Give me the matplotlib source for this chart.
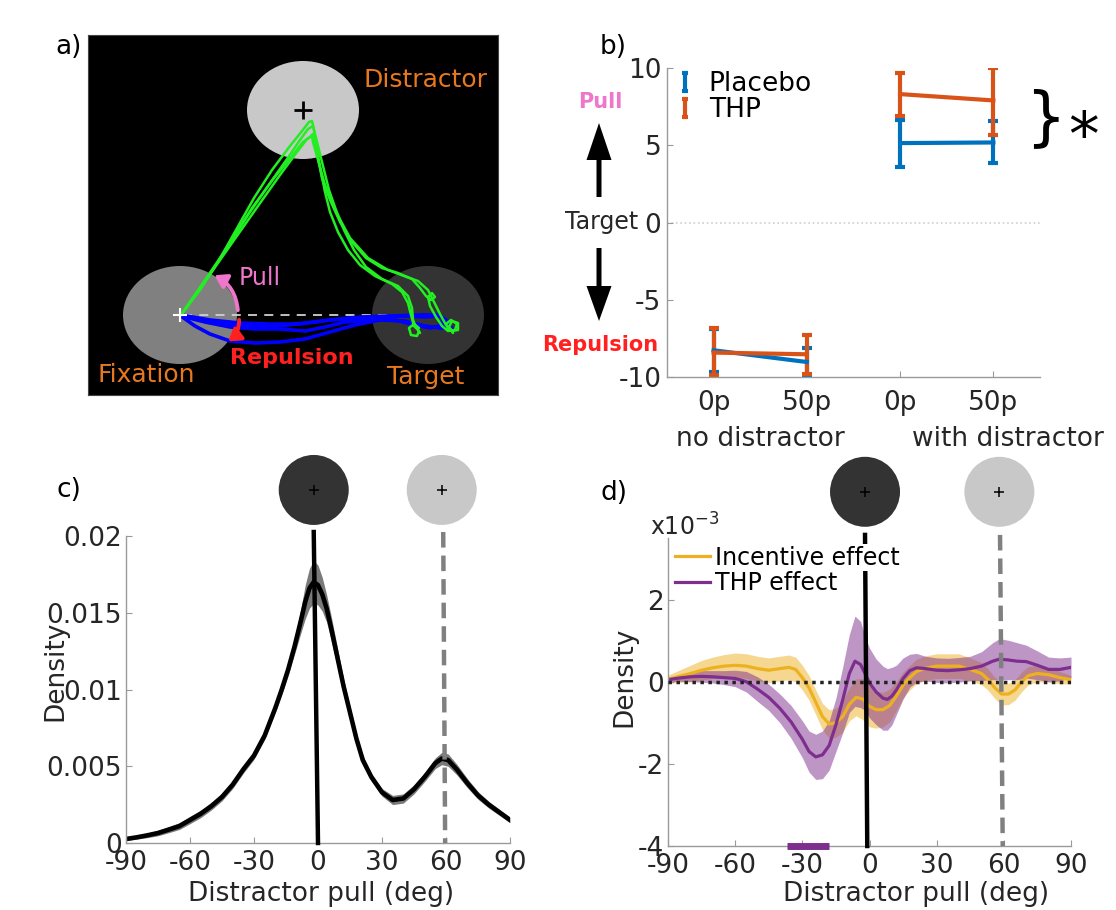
import numpy as np
import matplotlib
matplotlib.use('Agg')
import matplotlib.pyplot as plt
from matplotlib.patches import Ellipse, FancyArrowPatch
from matplotlib.lines import Line2D
from matplotlib.path import Path

plt.rcParams['font.family'] = ['DejaVu Sans']
plt.rcParams['axes.unicode_minus'] = False

# ------------------------------------------------------------------ data
# panel a : schematic (coordinates in panel pixels)
stim_labels = ['Distractor', 'Fixation', 'Target']
stim_centers = [(303, 110), (180, 315), (428, 315)]
stim_sizes = [(112, 98), (114, 98), (112, 98)]
stim_colors = ['#c8c8c8', '#808080', '#333333']

green_trajs = [
    [(181, 315), (200, 290), (218, 262), (236, 230), (254, 198), (272, 170), (290, 146), (302, 131), (309, 122),
     (312, 121), (314, 130), (317, 150), (321, 172), (325, 192), (330, 212), (338, 232), (348, 250), (360, 265),
     (375, 276), (392, 284), (402, 292), (408, 303), (411, 315), (414, 326), (419, 331), (417, 336), (411, 335),
     (409, 328), (414, 324), (419, 328)],
    [(181, 315), (204, 282), (228, 246), (252, 208), (274, 178), (292, 156), (303, 142), (310, 137), (313, 134),
     (315, 143), (318, 158), (322, 178), (330, 200), (340, 222), (352, 242), (366, 258), (382, 268), (398, 273),
     (412, 279), (420, 288), (426, 296), (431, 300), (435, 297), (432, 293), (428, 297), (430, 306), (436, 317),
     (442, 326), (448, 331), (455, 330), (457, 324), (451, 320), (446, 324), (449, 330)],
    [(181, 315), (206, 280), (232, 243), (258, 206), (280, 175), (297, 152), (307, 139), (312, 136),
     (313, 142), (318, 160), (325, 185), (336, 212), (350, 238), (368, 258), (388, 270), (404, 276), (418, 281),
     (428, 290), (434, 302), (440, 314), (446, 325), (452, 331), (458, 330), (458, 323), (452, 321), (449, 327),
     (453, 333)],
    [(181, 315), (203, 283), (226, 250), (248, 215), (268, 186), (287, 159), (300, 140), (308, 129), (313, 126),
     (315, 134), (319, 150), (324, 170), (329, 190), (336, 210), (344, 230), (354, 250), (366, 267), (382, 279),
     (398, 286), (408, 296), (412, 308), (413, 320), (416, 327), (420, 333)],
]
blue_trajs = [
    [(181, 315), (205, 321), (230, 325), (255, 326), (280, 326), (305, 323), (330, 320), (355, 318), (380, 317),
     (405, 316), (425, 317), (440, 316), (446, 320), (440, 323)],
    [(181, 316), (195, 326), (210, 334), (230, 341), (255, 343), (280, 342), (305, 339), (330, 332), (355, 325),
     (380, 320), (405, 321), (425, 326), (440, 328), (452, 328)],
    [(181, 316), (205, 322), (230, 327), (255, 329), (280, 329), (305, 331), (325, 327), (345, 322), (370, 320),
     (395, 320), (415, 325), (430, 328), (448, 324)],
    [(181, 315), (210, 320), (240, 323), (270, 324), (300, 324), (330, 320), (360, 317), (390, 316), (420, 315),
     (440, 315)],
]

# panel b : mean pull (deg) with error bars
cond_labels = ['0p', '50p', '0p', '50p']
group_labels = ['no distractor', 'with distractor']
placebo_mean = [-8.27, -9.03, 5.14, 5.18]
placebo_low = [-9.67, -9.90, 3.62, 3.84]
placebo_high = [-6.87, -8.12, 6.65, 6.54]
thp_mean = [-8.42, -8.53, 8.31, 7.90]
thp_low = [-9.90, -9.80, 6.91, 5.68]
thp_high = [-6.86, -7.30, 9.68, 10.00]

# panel c : density of distractor pull
c_deg = [-90, -85, -80, -75, -70, -65, -60, -55, -50, -45, -40, -35, -30, -25, -20, -17, -14, -11, -8, -6, -4,
         -2, 0, 2, 4, 6, 8, 10, 12, 15, 18, 21, 25, 30, 35, 40, 45, 50, 55, 58, 61, 65, 70, 75, 80, 85, 90]
c_density = [0.00026, 0.00037, 0.0005, 0.00065, 0.00087, 0.0011, 0.0015, 0.0019, 0.0024, 0.0030, 0.0038,
             0.0048, 0.0057, 0.0070, 0.0088, 0.0100, 0.0113, 0.0128, 0.0145, 0.0157, 0.0166,
             0.0170, 0.0168, 0.0162, 0.0153, 0.0141, 0.0128, 0.0115, 0.0102, 0.0085, 0.0068, 0.0054, 0.0043,
             0.0033, 0.0028, 0.0029, 0.0035, 0.0043, 0.0052, 0.0055, 0.0054, 0.0048, 0.0039, 0.0031, 0.0025,
             0.0020, 0.0015]
c_sem = [0.0001, 0.00012, 0.00015, 0.00018, 0.0002, 0.00022, 0.00024, 0.00025, 0.00025, 0.00025, 0.00025,
         0.00025, 0.00025, 0.00025, 0.0003, 0.00035, 0.0004, 0.0005, 0.0008, 0.0011, 0.0013,
         0.0014, 0.0013, 0.0011, 0.0009, 0.0008, 0.0007, 0.0006, 0.0005, 0.0004, 0.00035, 0.0003, 0.00025,
         0.00025, 0.0003, 0.0003, 0.0003, 0.0003, 0.00035, 0.0004, 0.0004, 0.00035, 0.0003, 0.00025, 0.00022,
         0.0002, 0.00018]

# panel d : effects on density (x 1e-3)
inc_deg = [-90, -85, -80, -75, -70, -65, -60, -55, -50, -45, -40, -36, -33, -30, -27, -24, -21, -18, -15, -12,
           -9, -6, -3, 0, 3, 6, 9, 12, 15, 18, 21, 25, 30, 35, 40, 45, 50, 53, 56, 59, 62, 65, 68, 71, 75, 80,
           85, 90]
inc_effect = [0.06, 0.13, 0.20, 0.28, 0.34, 0.38, 0.40, 0.38, 0.32, 0.28, 0.32, 0.35, 0.30, 0.10, -0.15, -0.50,
              -0.85, -1.03, -1.00, -0.85, -0.55, -0.38, -0.42, -0.60, -0.68, -0.68, -0.58, -0.35, -0.08, 0.10,
              0.25, 0.33, 0.38, 0.38, 0.38, 0.30, 0.20, 0.05, -0.15, -0.30, -0.30, -0.20, 0.00, 0.15, 0.20, 0.17,
              0.10, 0.05]
inc_sem = [0.10, 0.15, 0.20, 0.24, 0.26, 0.28, 0.30, 0.30, 0.30, 0.30, 0.30, 0.30, 0.30, 0.30, 0.30, 0.30,
           0.32, 0.35, 0.35, 0.38, 0.40, 0.45, 0.50, 0.50, 0.45, 0.42, 0.40, 0.35, 0.32, 0.30, 0.30, 0.30, 0.30,
           0.30, 0.30, 0.28, 0.27, 0.26, 0.26, 0.26, 0.26, 0.25, 0.24, 0.22, 0.20, 0.18, 0.15, 0.10]
thp_deg = [-90, -85, -80, -75, -70, -65, -60, -55, -50, -45, -40, -35, -30, -27, -24, -21, -18, -15, -12, -9,
           -6.5, -4, -2, 0, 3, 6, 8, 10, 12, 15, 18, 21, 25, 30, 35, 40, 45, 50, 55, 58, 62, 66, 70, 75, 80, 85,
           90]
thp_effect = [0.05, 0.09, 0.12, 0.13, 0.12, 0.10, 0.08, 0.00, -0.18, -0.38, -0.65, -0.98, -1.40, -1.70, -1.83,
              -1.78, -1.55, -1.05, -0.45, 0.20, 0.50, 0.42, 0.20, -0.03, -0.25, -0.40, -0.43, -0.35, -0.20, 0.08,
              0.27, 0.34, 0.32, 0.28, 0.27, 0.29, 0.32, 0.38, 0.50, 0.55, 0.53, 0.50, 0.49, 0.40, 0.30, 0.30, 0.35]
thp_sem = [0.05, 0.08, 0.12, 0.14, 0.15, 0.17, 0.20, 0.25, 0.30, 0.32, 0.35, 0.40, 0.45, 0.50, 0.55, 0.58, 0.60,
           0.65, 0.80, 0.95, 1.10, 1.05, 0.90, 0.85, 0.80, 0.78, 0.75, 0.70, 0.60, 0.50, 0.40, 0.35, 0.30, 0.30,
           0.30, 0.30, 0.30, 0.35, 0.45, 0.50, 0.48, 0.45, 0.40, 0.35, 0.30, 0.28, 0.25]
sig_bar_deg = [-37, -18]

c_target_line = [-2, 0]        # target reference line (top, bottom) in panel c
c_distractor_line = [58.7, 59.6]
d_target_line = [-2, -1]
d_distractor_line = [58.3, 59.5]
circle_deg = [-2, 58]

# ------------------------------------------------------------------ figure
W, H = 1116, 910
fig = plt.figure(figsize=(W / 100, H / 100), dpi=100)


def rect(l, t, r, b):
    return [l / W, 1 - b / H, (r - l) / W, (b - t) / H]


TXT = '#262626'
AXC = '#9a9a9a'
ORANGE = '#E8781E'
PINK = '#EE77CC'
RED = '#FF2020'

# ---------------- panel a
axa = fig.add_axes(rect(88, 35, 498, 395))
axa.set_xlim(88, 498)
axa.set_ylim(395, 35)
axa.set_facecolor('black')
axa.set_xticks([])
axa.set_yticks([])
for s in axa.spines.values():
    s.set_color('#444444')
for (cx, cy), (ew, eh), col in zip(stim_centers, stim_sizes, stim_colors):
    axa.add_patch(Ellipse((cx, cy), ew, eh, color=col, lw=0))
axa.plot([stim_centers[1][0] + 3, stim_centers[2][0] + 4], [stim_centers[1][1]] * 2,
         color='#d0d0d0', lw=1.3, ls=(0, (5, 4)))
for tr in blue_trajs:
    xs, ys = zip(*tr)
    axa.plot(xs, ys, color='#0000ff', lw=2.6, solid_capstyle='round', solid_joinstyle='round')
for tr in green_trajs:
    xs, ys = zip(*tr)
    axa.plot(xs, ys, color='#22ee22', lw=1.8, solid_capstyle='round', solid_joinstyle='round')
axa.plot(*stim_centers[0], marker='+', color='black', ms=13, mew=2)
axa.plot(*stim_centers[1], marker='+', color='white', ms=10, mew=1.5)
axa.add_patch(FancyArrowPatch((238, 313), (212, 274), connectionstyle='arc3,rad=0.3',
                              arrowstyle='-|>,head_length=7,head_width=4.5', color=PINK, lw=2.8, zorder=5))
axa.add_patch(FancyArrowPatch((239, 317), (226, 343), connectionstyle='arc3,rad=-0.3',
                              arrowstyle='-|>,head_length=7,head_width=4.5', color=RED, lw=2.8, zorder=5))
axa.text(425, 80, stim_labels[0], color=ORANGE, fontsize=18, ha='center', va='center')
axa.text(146, 375, stim_labels[1], color=ORANGE, fontsize=18, ha='center', va='center')
axa.text(426, 377, stim_labels[2], color=ORANGE, fontsize=18, ha='center', va='center')
axa.text(260, 278, 'Pull', color=PINK, fontsize=17, ha='center', va='center')
axa.text(292, 358, 'Repulsion', color=RED, fontsize=16, fontweight='bold', ha='center', va='center')


def style_axes(ax):
    for s in ['top', 'right']:
        ax.spines[s].set_visible(False)
    for s in ['left', 'bottom']:
        ax.spines[s].set_color(AXC)
        ax.spines[s].set_linewidth(1)
    ax.tick_params(direction='in', length=4, width=0.8, color=AXC, labelcolor=TXT, labelsize=19)
    ax.set_facecolor('none')


# ---------------- panel b
axb = fig.add_axes(rect(667, 68, 1040, 377))
style_axes(axb)
pos = np.arange(1, len(cond_labels) + 1)
for mean, low, high, col, lab in [(placebo_mean, placebo_low, placebo_high, '#0072BD', 'Placebo'),
                                   (thp_mean, thp_low, thp_high, '#D95319', 'THP')]:
    m = np.array(mean)
    lo = np.array(low)
    hi = np.array(high)
    for idx in ([0, 1], [2, 3]):
        axb.errorbar(pos[idx], m[idx], yerr=[m[idx] - lo[idx], hi[idx] - m[idx]], color=col, lw=3,
                     elinewidth=3, capsize=3.5, capthick=3)
axb.axhline(0, color='#cfcfcf', lw=1.2, ls=':', zorder=0)
axb.set_xlim(0.5, 4.5)
axb.set_ylim(-10, 10)
axb.set_yticks([-10, -5, 0, 5, 10])
axb.set_xticks(pos)
axb.set_xticklabels(cond_labels)
axb.tick_params(axis='x', pad=9)
axb.tick_params(axis='y', pad=4)
axb.text(1.5, -0.2, group_labels[0], transform=axb.get_xaxis_transform(), ha='center', va='center',
         fontsize=19, color=TXT)
axb.text(4.16, -0.2, group_labels[1], transform=axb.get_xaxis_transform(), ha='center', va='center',
         fontsize=19, color=TXT, clip_on=False)
I_marker = Path([(-0.35, -1), (0.35, -1), (0, -1), (0, 1), (-0.35, 1), (0.35, 1)],
                [Path.MOVETO, Path.LINETO, Path.MOVETO, Path.LINETO, Path.MOVETO, Path.LINETO])
hb = [Line2D([], [], ls='none', marker=I_marker, ms=13, mew=3, color=c) for c in ['#0072BD', '#D95319']]
axb.legend(hb, ['Placebo', 'THP'], loc='upper left', bbox_to_anchor=(0.02, 0.99), frameon=False,
           fontsize=19, handlelength=0.8, handletextpad=0.5, labelspacing=0.0, borderpad=0, borderaxespad=0)

# ---------------- panel c
axc = fig.add_axes(rect(126, 536, 510, 843))
style_axes(axc)
cm = np.array(c_density)
cs = np.array(c_sem)
axc.fill_between(c_deg, cm - cs, cm + cs, color='#7a7a7a', lw=0)
axc.plot(c_deg, cm, color='black', lw=3.3, solid_joinstyle='round')
axc.set_xlim(-90, 90)
axc.set_ylim(0, 0.02)
axc.set_xticks([-90, -60, -30, 0, 30, 60, 90])
axc.set_yticks([0, 0.005, 0.01, 0.015, 0.02])
axc.set_yticklabels(['0', '0.005', '0.01', '0.015', '0.02'])
axc.tick_params(axis='x', pad=5)
axc.tick_params(axis='y', pad=3)
axc.set_xlabel('Distractor pull (deg)', fontsize=19, color=TXT)
axc.set_ylabel('Density', fontsize=19, color=TXT)
axc.xaxis.set_label_coords(0.508, -0.125)
axc.yaxis.set_label_coords(-0.15, 0.56)

# ---------------- panel d
axd = fig.add_axes(rect(668, 538, 1071, 846))
style_axes(axd)
im = np.array(inc_effect)
isd = np.array(inc_sem)
tm = np.array(thp_effect)
tsd = np.array(thp_sem)
axd.fill_between(inc_deg, im - isd, im + isd, color='#EDB120', alpha=0.5, lw=0)
axd.fill_between(thp_deg, tm - tsd, tm + tsd, color='#7E2F8E', alpha=0.5, lw=0)
l_inc, = axd.plot(inc_deg, im, color='#EDB120', lw=2.3)
l_thp, = axd.plot(thp_deg, tm, color='#7E2F8E', lw=2.3)
axd.plot([-90, 90], [0, 0], color='#222222', lw=2.5, ls=(0, (1, 1.3)), zorder=4)
axd.plot(sig_bar_deg, [-4, -4], color='#7E2F8E', lw=5, solid_capstyle='butt', clip_on=False, zorder=5)
axd.set_xlim(-90, 90)
axd.set_ylim(-4, 3.5)
axd.set_xticks([-90, -60, -30, 0, 30, 60, 90])
axd.set_yticks([-4, -2, 0, 2])
axd.tick_params(axis='x', pad=5)
axd.tick_params(axis='y', pad=3)
axd.set_xlabel('Distractor pull (deg)', fontsize=19, color=TXT)
axd.set_ylabel('Density', fontsize=19, color=TXT)
axd.xaxis.set_label_coords(0.615, -0.115)
axd.yaxis.set_label_coords(-0.075, 0.55)
axd.text(-0.045, 0.99, r'x10$^{\mathregular{-3}}$', transform=axd.transAxes, fontsize=17, color=TXT,
         ha='left', va='bottom')
leg = axd.legend([l_inc, l_thp], ['Incentive effect', 'THP effect'], loc='upper left',
                 bbox_to_anchor=(0.017, 0.975), frameon=False, fontsize=17, handlelength=1.5,
                 handletextpad=0.2, labelspacing=0.05, borderpad=0, borderaxespad=0)
leg.set_zorder(10)
leg.get_texts()[0].set_bbox(dict(facecolor='white', edgecolor='none', pad=1))

# reference lines and stimulus icons for c and d
for ax, ytop, tline, dline in [(axc, 1.013, c_target_line, c_distractor_line),
                               (axd, 1.01, d_target_line, d_distractor_line)]:
    tr = ax.get_xaxis_transform()
    ax.plot(tline, [ytop, 0], color='black', lw=3.2, transform=tr, clip_on=False, zorder=6)
    ax.plot(dline, [ytop, 0], color='#808080', lw=3.2, transform=tr, clip_on=False,
            ls=(0, (3.5, 1.8)), zorder=6)
    ax.scatter(circle_deg, [1.15, 1.15], s=2540, c=['#333333', '#c8c8c8'], transform=tr, clip_on=False,
               linewidths=0, zorder=7)
    ax.scatter(circle_deg, [1.15, 1.15], s=60, marker='+', c='black', transform=tr, clip_on=False,
               linewidths=1.1, zorder=8)

# ---------------- overlay: annotations and panel labels
ov = fig.add_axes([0, 0, 1, 1], zorder=20)
ov.set_xlim(0, W)
ov.set_ylim(H, 0)
ov.axis('off')
ov.patch.set_alpha(0)
ov.arrow(599, 197, 0, -74, width=5, head_width=25, head_length=37, length_includes_head=True,
         color='black', lw=0)
ov.arrow(599, 248, 0, 73, width=5, head_width=25, head_length=35, length_includes_head=True,
         color='black', lw=0)
ov.text(600, 102, 'Pull', color=PINK, fontsize=15, fontweight='bold', ha='center', va='center')
ov.text(638, 222, 'Target', color=TXT, fontsize=17, ha='right', va='center')
ov.text(658, 345, 'Repulsion', color=RED, fontsize=15, fontweight='bold', ha='right', va='center')
ov.text(1045, 119, '}', fontsize=46, ha='center', va='center', color='black')
ov.text(1083, 138, '*', fontsize=44, ha='center', va='center', color='black')
for lab, x, y in [('a)', 55, 47), ('b)', 600, 47), ('c)', 57, 490), ('d)', 600, 493)]:
    ov.text(x, y, lab, fontsize=19, ha='left', va='center', color='black')

fig.savefig('out.png', dpi=100)
